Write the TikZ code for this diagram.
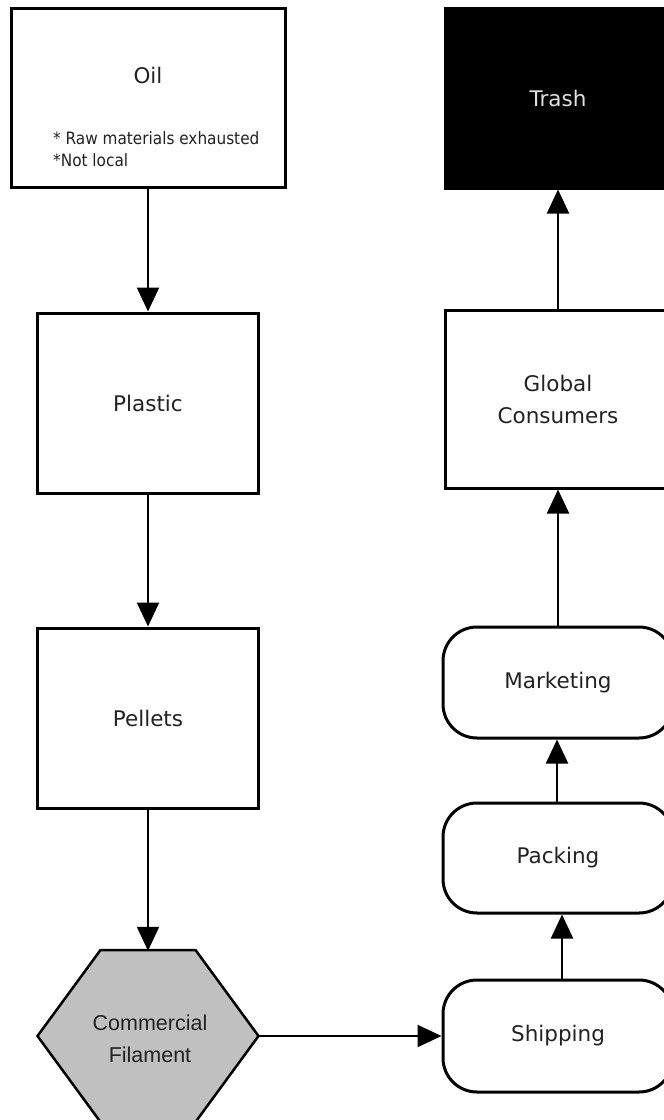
\documentclass[tikz,border=0pt]{standalone}
\usepackage{fontspec}
\setmainfont{DejaVu Sans}
\newfontfamily\condfont{DejaVu Sans Condensed}
\newfontfamily\libfont{Liberation Sans}
\usetikzlibrary{arrows.meta}
\definecolor{txt}{HTML}{222222}
\definecolor{hexfill}{HTML}{C0C0C0}
\tikzset{
  box/.style={draw=black, line width=3pt, fill=white, inner sep=0pt, align=center, text=txt, font=\fontsize{21.5}{32}\selectfont},
  pill/.style={box, rounded corners=34pt},
  conn/.style={line width=2.2pt, -{Triangle[length=24pt,width=22pt]}}
}
\begin{document}
\begin{tikzpicture}[x=1pt,y=-1pt]
\clip (0,0) rectangle (664,1120);
\fill[white] (0,0) rectangle (664,1120);
% left column
\node[box, minimum width=274pt, minimum height=179pt] (oil) at (148,97.5) {};
\node[text=txt, font=\fontsize{21.5}{24}\selectfont] (oiltitle) at (148,75) {Oil};
\node[text=txt, font=\condfont\fontsize{17}{22}\selectfont, align=left, anchor=north west, inner sep=0pt] (oilnote) at (53,131) {* Raw materials exhausted\\*Not local};
\node[box, minimum width=221pt, minimum height=180pt] (plastic) at (148,403) {Plastic};
\node[box, minimum width=221pt, minimum height=180pt] (pellets) at (148,718) {Pellets};
% hexagon
\node[minimum width=221pt, minimum height=170pt, inner sep=0pt] (hex) at (148,1036) {};
\draw[line width=2.5pt, fill=hexfill] (37.5,1036) -- (100.5,950) -- (195.5,950) -- (258.5,1036) -- (195.5,1122) -- (100.5,1122) -- cycle;
\node[align=center, text=txt, font=\libfont\fontsize{21.5}{32}\selectfont] (hextext) at (150,1039) {Commercial\\Filament};
% right column
\node[box, fill=black, text=white!88!black, minimum width=226pt, minimum height=180pt] (trash) at (558,98) {Trash};
\node[box, minimum width=226pt, minimum height=178pt] (global) at (558,399) {Global\\Consumers};
\node[pill, minimum width=230pt, minimum height=111pt] (mark) at (558,682.5) {Marketing};
\node[pill, minimum width=230pt, minimum height=110pt] (pack) at (558,858) {Packing};
\node[pill, minimum width=230pt, minimum height=112pt] (ship) at (558,1036) {Shipping};
% connectors
\draw[conn] (oil.south) -- (plastic.north);
\draw[conn] (plastic.south) -- (pellets.north);
\draw[conn] (pellets.south) -- (hex.north);
\draw[conn] (hex.east) -- (ship.west);
\draw[conn] ([xshift=4pt]ship.north) -- ([xshift=4pt]pack.south);
\draw[conn] ([xshift=-1pt]pack.north) -- ([xshift=-1pt]mark.south);
\draw[conn] (mark.north) -- (global.south);
\draw[conn] (global.north) -- (trash.south);
\end{tikzpicture}
\end{document}
